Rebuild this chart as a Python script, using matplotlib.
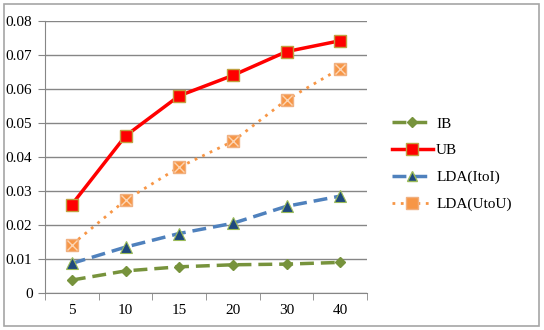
import matplotlib
matplotlib.use('Agg')
import matplotlib.pyplot as plt
from matplotlib.patches import Rectangle
from matplotlib.lines import Line2D

plt.rcParams['font.family'] = ['Liberation Serif', 'DejaVu Serif']

categories = ['5', '10', '15', '20', '30', '40']
ib = [0.0038, 0.0065, 0.0077, 0.0083, 0.0085, 0.0090]
ub = [0.0260, 0.0462, 0.0580, 0.0640, 0.0710, 0.0742]
lda_itoi = [0.0087, 0.0135, 0.0175, 0.0205, 0.0255, 0.0285]
lda_utou = [0.0142, 0.0273, 0.0370, 0.0446, 0.0568, 0.0660]

fig = plt.figure(figsize=(5.44, 3.30), dpi=100)
ax = fig.add_axes([45 / 544, 1 - 293 / 330, 322 / 544, 272 / 330])

x = list(range(len(categories)))

ax.plot(x, ib, color='#77933C', lw=2.5, ls=(0, (4, 2)), marker='D', ms=5.5,
        mfc='#77933C', mec='#77933C', label='IB', zorder=3)
ax.plot(x, ub, color='#FF0000', lw=2.5, marker='s', ms=9,
        mfc='#FF0000', mec='#C0A040', mew=1, label='UB', zorder=3)
ax.plot(x, lda_itoi, color='#4F81BD', lw=2.5, ls=(0, (4, 2)), marker='^', ms=8,
        mfc='#1F497D', mec='#9BBB59', mew=0.8, label='LDA(ItoI)', zorder=3)
ax.plot(x, lda_utou, color='#F79646', lw=2, ls=(0, (1, 2)), marker='s', ms=9,
        mfc='#F79646', mec='#F0B080', mew=1, label='LDA(UtoU)', zorder=3)
ax.plot(x, lda_utou, ls='none', marker='x', ms=7, mec='#FCD5B4', mew=1, zorder=4)

ax.set_xlim(-0.5, len(categories) - 0.5)
ax.set_ylim(0, 0.08)
ax.set_yticks([i / 100 for i in range(9)])
ax.set_yticklabels(['0'] + [f'{i / 100:.2f}' for i in range(1, 9)])
ax.set_xticks(x)
ax.set_xticklabels(categories)
ax.set_xticks([i - 0.5 for i in range(len(categories) + 1)], minor=True)
ax.tick_params(axis='x', which='major', length=0, pad=8)
ax.tick_params(axis='x', which='minor', length=5, color='#868686')
ax.tick_params(axis='y', length=5, color='#868686', direction='out', pad=4)
ax.tick_params(labelsize=11)

ax.grid(axis='y', color='#868686', lw=1)
ax.set_axisbelow(True)
for s in ['top', 'right']:
    ax.spines[s].set_visible(False)
for s in ['left', 'bottom']:
    ax.spines[s].set_color('#868686')

handles = [
    Line2D([], [], color='#77933C', lw=2.5, ls=(0, (4, 2)), marker='D', ms=5),
    Line2D([], [], color='#FF0000', lw=2.5, marker='s', ms=8, mec='#C0A040'),
    Line2D([], [], color='#4F81BD', lw=2.5, ls=(0, (4, 2)), marker='^', ms=7,
           mfc='#1F497D', mec='#9BBB59'),
    Line2D([], [], color='#F79646', lw=2, ls=(0, (1, 2)), marker='s', ms=8,
           mec='#F0B080'),
]
ax.legend(handles, ['IB', 'UB', 'LDA(ItoI)', 'LDA(UtoU)'],
          loc='center left', bbox_to_anchor=(378 / 544, 166 / 330),
          bbox_transform=fig.transFigure, frameon=False, fontsize=11,
          handlelength=2.7, labelspacing=0.85, handletextpad=0.2)

fig.patches.append(Rectangle((4 / 544, 4 / 330), 535 / 544, 322 / 330,
                             transform=fig.transFigure, fill=False,
                             edgecolor='#A6A6A6', lw=1.2))

fig.savefig('out.png', dpi=100)
